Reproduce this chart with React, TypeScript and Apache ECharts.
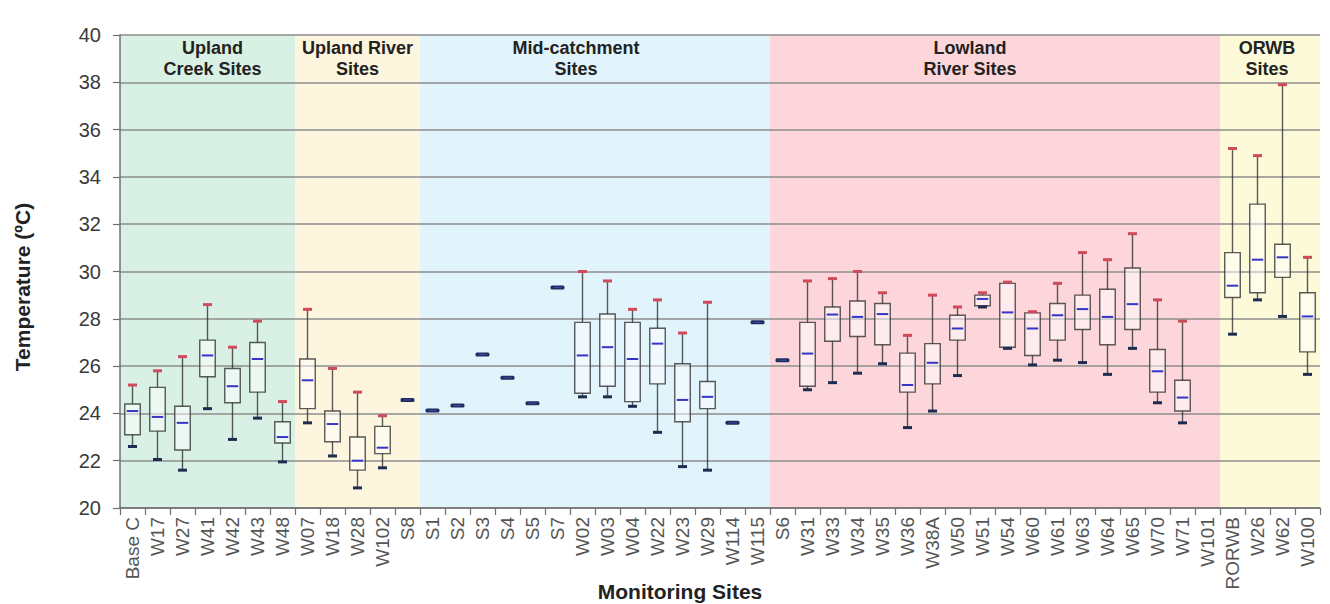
import React, { useEffect, useRef } from "react";
import * as echarts from "echarts";

const categories = [
  "Base C", "W17", "W27", "W41", "W42", "W43", "W48",
  "W07", "W18", "W28", "W102", "S8",
  "S1", "S2", "S3", "S4", "S5", "S7", "W02", "W03", "W04", "W22", "W23", "W29", "W114", "W115",
  "S6", "W31", "W33", "W34", "W35", "W36", "W38A", "W50", "W51", "W54", "W60", "W61", "W63", "W64", "W65", "W70", "W71", "W101",
  "RORWB", "W26", "W62", "W100",
];

const N = null;
const siteMax = [
  25.2, 25.8, 26.4, 28.6, 26.8, 27.9, 24.5,
  28.4, 25.9, 24.9, 23.9, N,
  N, N, N, N, N, N, 30.0, 29.6, 28.4, 28.8, 27.4, 28.7, N, N,
  N, 29.6, 29.7, 30.0, 29.1, 27.3, 29.0, 28.5, 29.1, 29.55, 28.3, 29.5, 30.8, 30.5, 31.6, 28.8, 27.9, N,
  35.2, 34.9, 37.9, 30.6,
];
const siteQ3 = [
  24.4, 25.1, 24.3, 27.1, 25.9, 27.0, 23.65,
  26.3, 24.1, 23.0, 23.45, N,
  N, N, N, N, N, N, 27.85, 28.2, 27.85, 27.6, 26.1, 25.35, N, N,
  N, 27.85, 28.5, 28.75, 28.65, 26.55, 26.95, 28.15, 29.0, 29.5, 28.25, 28.65, 29.0, 29.25, 30.15, 26.7, 25.4, N,
  30.8, 32.85, 31.15, 29.1,
];
const siteMedian = [
  24.1, 23.85, 23.6, 26.45, 25.15, 26.3, 23.0,
  25.4, 23.55, 22.0, 22.55, 24.57,
  24.12, 24.33, 26.49, 25.51, 24.43, 29.32, 26.45, 26.8, 26.3, 26.95, 24.57, 24.7, 23.6, 27.85,
  26.25, 26.53, 28.18, 28.08, 28.2, 25.2, 26.14, 27.59, 28.84, 28.27, 27.59, 28.15, 28.41, 28.08, 28.62, 25.78, 24.67, N,
  29.4, 30.5, 30.6, 28.1,
];
const siteQ1 = [
  23.1, 23.25, 22.45, 25.55, 24.45, 24.9, 22.75,
  24.2, 22.8, 21.6, 22.3, N,
  N, N, N, N, N, N, 24.85, 25.15, 24.5, 25.25, 23.65, 24.2, N, N,
  N, 25.15, 27.05, 27.25, 26.9, 24.9, 25.25, 27.1, 28.55, 26.8, 26.45, 27.1, 27.55, 26.9, 27.55, 24.9, 24.1, N,
  28.9, 29.1, 29.75, 26.6,
];
const siteMin = [
  22.6, 22.05, 21.6, 24.2, 22.9, 23.8, 21.95,
  23.6, 22.2, 20.85, 21.7, N,
  N, N, N, N, N, N, 24.7, 24.7, 24.3, 23.2, 21.75, 21.6, N, N,
  N, 25.0, 25.3, 25.7, 26.1, 23.4, 24.1, 25.6, 28.5, 26.75, 26.05, 26.25, 26.15, 25.65, 26.75, 24.45, 23.6, N,
  27.35, 28.8, 28.1, 25.65,
];

const groupNames = ["Upland\nCreek Sites", "Upland River\nSites", "Mid-catchment\nSites", "Lowland\nRiver Sites", "ORWB\nSites"];
const groupStart = [0, 7, 12, 26, 44];
const groupEnd = [6, 11, 25, 43, 47];

const yTicks = [20, 22, 24, 26, 28, 30, 32, 34, 36, 38, 40];

// styling (not data)
const groupColors = ["#d9f1e4", "#fdf5dd", "#e1f3fb", "#fdd6db", "#fcfad8"];
const groupLabelShift = [5, 0, -19, -25, -3];
const FONT = '"Liberation Sans", Arial, sans-serif';

export default function App() {
  const ref = useRef<HTMLDivElement>(null);

  useEffect(() => {
    if (!ref.current) return;
    const chart = echarts.init(ref.current, undefined, { renderer: "svg" });

    const boxData: any[] = [];
    const singleData: any[] = [];
    categories.forEach((_, i) => {
      if (siteMax[i] != null) {
        boxData.push([i, siteMin[i], siteQ1[i], siteMedian[i], siteQ3[i], siteMax[i]]);
      } else if (siteMedian[i] != null) {
        singleData.push([i, siteMedian[i]]);
      }
    });
    const bgData = groupStart.map((s, k) => [s, groupEnd[k]]);

    const lineColor = "rgba(45,45,45,0.78)";

    const option: any = {
      animation: false,
      backgroundColor: "#ffffff",
      grid: { left: 120, right: 10, top: 35, bottom: 96 },
      xAxis: {
        type: "category",
        data: categories,
        boundaryGap: true,
        axisLine: { show: true, lineStyle: { color: "#707070", width: 1.5 } },
        axisTick: { show: true, alignWithLabel: false, length: 7, lineStyle: { color: "#707070", width: 1.2 } },
        axisLabel: {
          interval: 0,
          rotate: 90,
          margin: 9,
          fontSize: 19,
          fontFamily: FONT,
          color: "#555555",
        },
        splitLine: { show: false },
      },
      yAxis: {
        type: "value",
        min: 20,
        max: 40,
        interval: 2,
        axisLine: { show: true, lineStyle: { color: "#707070", width: 1.5 } },
        axisTick: { show: true, length: 7, lineStyle: { color: "#707070", width: 1.2 } },
        axisLabel: {
          margin: 19,
          fontSize: 20,
          fontFamily: FONT,
          color: "#3a3a3a",
          formatter: (v: number) => (yTicks.includes(v) ? String(v) : ""),
        },
        splitLine: { show: true, lineStyle: { color: "#8c8c8c", width: 1.5 } },
      },
      graphic: [
        {
          type: "text",
          x: 22,
          y: 287,
          rotation: Math.PI / 2,
          style: {
            text: "Temperature (ºC)",
            font: `bold 21px ${FONT}`,
            fill: "#222222",
            align: "center",
            verticalAlign: "middle",
          },
        },
        {
          type: "text",
          x: 680,
          y: 591,
          style: {
            text: "Monitoring Sites",
            font: `bold 21px ${FONT}`,
            fill: "#222222",
            align: "center",
            verticalAlign: "middle",
          },
        },
      ],
      series: [
        {
          type: "custom",
          name: "groups",
          z: -1,
          silent: true,
          encode: { x: [0, 1] },
          data: bgData,
          renderItem: (params: any, api: any) => {
            const k = params.dataIndex;
            const cs = params.coordSys;
            const bw = api.size([1, 0])[0];
            const x0 = api.coord([api.value(0), 30])[0] - bw / 2;
            const x1 = api.coord([api.value(1), 30])[0] + bw / 2;
            return {
              type: "group",
              children: [
                {
                  type: "rect",
                  shape: { x: x0, y: cs.y, width: x1 - x0, height: cs.height },
                  style: { fill: groupColors[k] },
                },
                {
                  type: "text",
                  x: (x0 + x1) / 2 + groupLabelShift[k],
                  y: cs.y + 2,
                  style: {
                    text: groupNames[k],
                    font: `bold 18px ${FONT}`,
                    fill: "#222222",
                    align: "center",
                    verticalAlign: "top",
                    lineHeight: 21,
                  },
                },
              ],
            };
          },
        },
        {
          type: "custom",
          name: "boxes",
          z: 3,
          encode: { x: 0, y: [1, 2, 3, 4, 5] },
          data: boxData,
          renderItem: (params: any, api: any) => {
            const i = api.value(0);
            const pMin = api.coord([i, api.value(1)]);
            const pQ1 = api.coord([i, api.value(2)]);
            const pMed = api.coord([i, api.value(3)]);
            const pQ3 = api.coord([i, api.value(4)]);
            const pMax = api.coord([i, api.value(5)]);
            const x = pMed[0];
            const bw = api.size([1, 0])[0];
            const boxW = bw * 0.62;
            const capW = 9;
            return {
              type: "group",
              children: [
                {
                  type: "line",
                  shape: { x1: x, y1: pMax[1], x2: x, y2: pQ3[1] },
                  style: { stroke: lineColor, lineWidth: 1.4 },
                },
                {
                  type: "line",
                  shape: { x1: x, y1: pQ1[1], x2: x, y2: pMin[1] },
                  style: { stroke: lineColor, lineWidth: 1.4 },
                },
                {
                  type: "rect",
                  shape: { x: x - boxW / 2, y: pQ3[1], width: boxW, height: Math.max(pQ1[1] - pQ3[1], 2) },
                  style: { fill: "rgba(255,255,255,0.5)", stroke: lineColor, lineWidth: 1.4 },
                },
                {
                  type: "line",
                  shape: { x1: x - boxW / 2 + 2, y1: pMed[1], x2: x + boxW / 2 - 2, y2: pMed[1] },
                  style: { stroke: "#3535c8", lineWidth: 2 },
                },
                {
                  type: "rect",
                  shape: { x: x - capW / 2, y: pMax[1] - 1.5, width: capW, height: 3 },
                  style: { fill: "#cf4a5a" },
                },
                {
                  type: "rect",
                  shape: { x: x - capW / 2, y: pMin[1] - 1.5, width: capW, height: 3 },
                  style: { fill: "#1e2d4f" },
                },
              ],
            };
          },
        },
        {
          type: "custom",
          name: "single",
          z: 3,
          encode: { x: 0, y: 1 },
          data: singleData,
          renderItem: (params: any, api: any) => {
            const p = api.coord([api.value(0), api.value(1)]);
            return {
              type: "group",
              children: [
                {
                  type: "rect",
                  shape: { x: p[0] - 7, y: p[1] - 2, width: 14, height: 4, r: 1.5 },
                  style: { fill: "#1f2e5c" },
                },
                {
                  type: "line",
                  shape: { x1: p[0] - 4, y1: p[1], x2: p[0] + 4, y2: p[1] },
                  style: { stroke: "#3a48b0", lineWidth: 1 },
                },
              ],
            };
          },
        },
      ],
    };

    chart.setOption(option);
    return () => chart.dispose();
  }, []);

  return (
    <div
      ref={ref}
      style={{ position: "fixed", left: 0, top: 0, width: 1330, height: 604, background: "#fff" }}
    />
  );
}
